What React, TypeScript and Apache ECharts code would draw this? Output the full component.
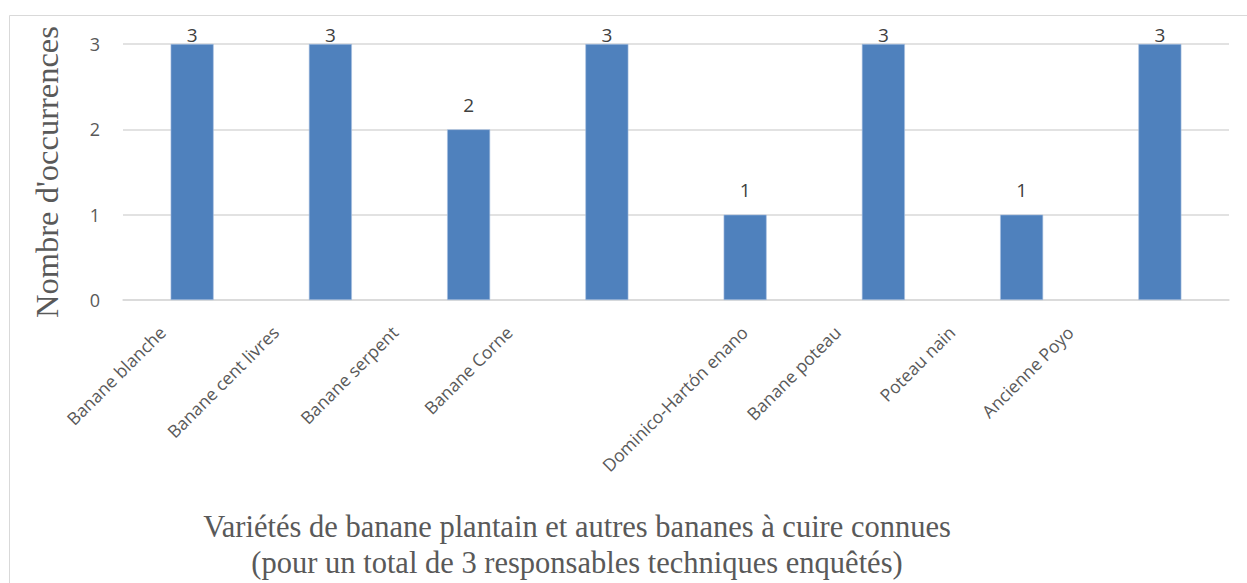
import { useEffect, useRef } from "react";
import * as echarts from "echarts";

const categories = [
  "Banane blanche",
  "Banane cent livres",
  "Banane serpent",
  "Banane Corne",
  "Dominico-Hartón enano",
  "Banane poteau",
  "Poteau nain",
  "Ancienne Poyo",
];
const occurrences = [3, 3, 2, 3, 1, 3, 1, 3];
const yAxisName = "Nombre d'occurrences";
const titleLines = [
  "Variétés de banane plantain et autres bananes à cuire connues",
  "(pour un total de 3 responsables techniques enquêtés)",
];
// leftward nudge (px) of each rotated category label, as seen in the picture
const labelNudge = [30, 55, 74, 98, 1, 46, 70, 90];

export default function App() {
  const ref = useRef<HTMLDivElement>(null);
  useEffect(() => {
    if (!ref.current) return;
    const chart = echarts.init(ref.current, undefined, { renderer: "svg" });
    const maxV = Math.max(...occurrences);
    const option = {
      animation: false,
      grid: { left: 123, right: 18, top: 44, bottom: 283, containLabel: false },
      graphic: [
        {
          type: "rect",
          silent: true,
          z: -10,
          shape: { x: 9.5, y: 15.5, width: 1400, height: 800 },
          style: { fill: "none", stroke: "#d9d9d9", lineWidth: 1 },
        },
        {
          type: "text",
          x: 577,
          y: 509,
          style: {
            text: titleLines.join("\n"),
            font: "30.5px 'Liberation Serif'",
            fill: "#595959",
            textAlign: "center",
            textVerticalAlign: "top",
            lineHeight: 36,
          },
        },
      ],
      xAxis: {
        type: "category",
        data: categories,
        axisLine: { show: true, lineStyle: { color: "#d9d9d9", width: 1.5 } },
        axisTick: { show: false },
        axisLabel: { show: false },
      },
      yAxis: {
        type: "value",
        min: 0,
        max: 3,
        interval: 1,
        name: yAxisName,
        nameLocation: "middle",
        nameGap: 60,
        nameTextStyle: {
          fontFamily: "'Liberation Serif'",
          fontSize: 32.5,
          color: "#595959",
        },
        axisLine: { show: false },
        axisTick: { show: false },
        axisLabel: {
          margin: 23,
          color: "#595959",
          fontSize: 18,
          fontFamily: "'Open Sans'",
        },
        splitLine: { lineStyle: { color: "#d9d9d9", width: 1.5 } },
      },
      series: [
        {
          type: "bar",
          barWidth: 43,
          data: occurrences.map((v) => ({
            value: v,
            label: { distance: v === maxV ? 0 : 15 },
          })),
          itemStyle: { color: "#4f81bd", borderColor: "#a9c1e0", borderWidth: 0.6 },
          label: {
            show: true,
            position: "top",
            color: "#404040",
            fontSize: 19,
            fontFamily: "'Open Sans'",
          },
        },
        {
          type: "custom",
          silent: true,
          clip: false,
          z: 5,
          data: categories.map((c, i) => [i, 0]),
          encode: { x: 0, y: 1 },
          renderItem: (params: any, api: any) => {
            const i = params.dataIndex;
            const pt = api.coord([api.value(0), 0]);
            return {
              type: "text",
              x: pt[0] - labelNudge[i],
              y: pt[1] + 29,
              rotation: Math.PI / 4,
              style: {
                text: categories[i],
                fill: "#595959",
                font: "17.5px 'Open Sans'",
                align: "right",
                verticalAlign: "middle",
              },
            };
          },
        },
      ],
    };
    chart.setOption(option);
    return () => chart.dispose();
  }, []);
  return (
    <div
      ref={ref}
      style={{ position: "fixed", left: 0, top: 0, width: 1247, height: 583, background: "#fff" }}
    />
  );
}
